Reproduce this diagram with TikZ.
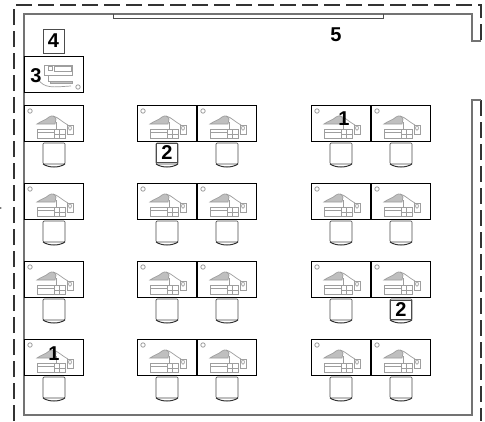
\documentclass[tikz,border=0pt]{standalone}
\usepackage{fontspec}
\setmainfont{Liberation Sans}
\definecolor{wallgray}{gray}{0.45}
\definecolor{icongray}{gray}{0.62}
\tikzset{
  wall/.style={draw=wallgray,line width=1.1pt},
  outer/.style={draw=black!80,line width=1.1pt,dash pattern=on 16pt off 6pt},
  deskbox/.style={draw=black,line width=0.9pt,fill=white},
  pin/.style={draw=icongray,line width=0.8pt,fill=white},
  iconline/.style={draw=icongray,line width=0.7pt},
  iconfill/.style={draw=icongray,fill=black!25,line width=0.7pt},
  chairbox/.style={draw=black!70,line width=0.7pt,rounded corners=1pt,fill=white},
  chairbase/.style={draw=black!80,line width=1pt},
  num/.style={font=\bfseries\fontsize{20}{20}\selectfont,text=black,inner sep=0pt},
  numbox/.style={num,draw=black!70,line width=0.7pt,fill=white,minimum width=21pt,minimum height=24pt}
}
\newcommand{\pcicon}[2]{%
  \begin{scope}[shift={(#1,#2)}]
    \filldraw[iconfill] (13,19) .. controls (17,16) and (22,15) .. (25,12) .. controls (28,10) and (31,11) .. (32,14) -- (31,19) -- cycle;
    \draw[iconline] (29,11) .. controls (34,12) and (38,17) .. (44,20);
    \draw[iconline] (32,17) -- (32,24);
    \draw[iconline,fill=white] (13,24) rectangle (41,33);
    \draw[iconline] (13,27) -- (30,27) (30,24) -- (30,33) (35,24) -- (35,33) (30,29) -- (41,29);
    \draw[iconline,fill=white] (43,20) rectangle (49,29);
    \draw[iconline] (46,23) ellipse (1.4 and 2.2);
  \end{scope}}
\newcommand{\deskunit}[2]{%
  \path[deskbox] (#1,#2) rectangle ++(59.5,36);
  \path[pin] (#1+6,#2+6) circle (2.2);
  \pcicon{#1}{#2}}
\newcommand{\chairunit}[2]{%
  \path[chairbox] (#1,#2) -- ++(0,21) -- ++(22,0) -- ++(0,-21) -- cycle;
  \draw[chairbase] (#1,#2+21) .. controls (#1+6,#2+25) and (#1+16,#2+25) .. (#1+22,#2+21);}
\begin{document}
\begin{tikzpicture}[x=1pt,y=-1pt]
\useasboundingbox (0,0) rectangle (485,421);
\path[fill=white] (0,0) rectangle (485,421);
% outer dashed outline
\draw[outer] (14,421) -- (14,5) -- (481,5) -- (481,41);
\draw[outer] (481,100) -- (481,421);
% room walls
\draw[wall] (481,41) -- (472,41) -- (472,14) -- (24,14) -- (24,415) -- (472,415) -- (472,100) -- (481,100);
% window
\draw[black!70,line width=0.7pt] (113,14) -- (113,18) -- (383,18) -- (383,14);
% small mark at the left edge
\fill[black!70] (0.8,208) circle (0.9);
% desks and chairs
\foreach \y in {105,183,261,339} {
  \foreach \x in {24,137,197,311,371} {
    \deskunit{\x}{\y}
    \chairunit{\x+19}{\y+38}
  }
}
% printer table
\path[deskbox] (24,56) rectangle (83,92);
\path[pin] (78,87) circle (2.2);
\begin{scope}[shift={(24,56)}]
  \draw[iconline,fill=white] (20,9) rectangle (48,19);
  \draw[iconline] (24,10) rectangle (28,14) (30,10) rectangle (47,15);
  \draw[iconline] (24,19) -- (24,25) -- (48,25);
  \filldraw[iconfill] (26,25) rectangle (48,27);
  \draw[iconline] (14,23) .. controls (20,33) and (30,31) .. (47,30);
\end{scope}
% labels
\node[numbox] (n4) at (53.5,41) {4};
\node[num] (n3) at (36,76) {3};
\node[num] (n5) at (336,35) {5};
\node[num] (n1a) at (344,119) {1};
\node[num] (n1b) at (54,354) {1};
\node[numbox,minimum height=19pt] (n2a) at (167,153) {2};
\node[numbox,minimum height=19pt] (n2b) at (401,310) {2};
\end{tikzpicture}
\end{document}
